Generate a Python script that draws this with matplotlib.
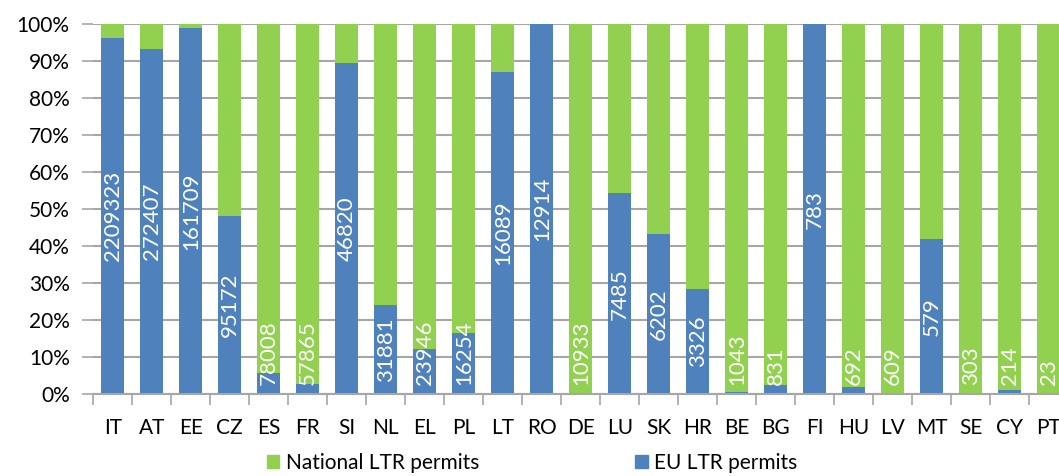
import matplotlib
matplotlib.use("Agg")
import matplotlib.pyplot as plt
from matplotlib.patches import Patch
from matplotlib.ticker import FixedLocator

plt.rcParams['font.family'] = ['Lato', 'DejaVu Sans']

countries = ['IT', 'AT', 'EE', 'CZ', 'ES', 'FR', 'SI', 'NL', 'EL', 'PL', 'LT', 'RO', 'DE',
             'LU', 'SK', 'HR', 'BE', 'BG', 'FI', 'HU', 'LV', 'MT', 'SE', 'CY', 'PT']
# share of EU LTR permits (%), the rest is national LTR permits
eu_share = [96.1, 93.2, 98.9, 48.2, 5.8, 2.8, 89.5, 24.2, 12.2, 16.5, 87.1, 100.0, 0.4,
            54.3, 43.3, 28.5, 0.5, 2.5, 100.0, 2.1, 0.0, 41.9, 0.0, 1.2, 0.0]
labels = [2209323, 272407, 161709, 95172, 78008, 57865, 46820, 31881, 23946, 16254, 16089,
          12914, 10933, 7485, 6202, 3326, 1043, 831, 783, 692, 609, 579, 303, 214, 23]

blue = '#4F81BD'
green = '#92D050'
grid = '#A6A6A6'

national_share = [100 - v for v in eu_share]
x = list(range(len(countries)))

fig = plt.figure(figsize=(10.59, 4.76), dpi=100)
ax = fig.add_axes([93.3 / 1059, 81.7 / 476, 975 / 1059, 370.3 / 476])

ax.bar(x, eu_share, width=0.59, color=blue, zorder=3)
ax.bar(x, national_share, width=0.59, bottom=eu_share, color=green, zorder=3)

ax.set_xlim(-0.5, len(countries) - 0.5)
ax.set_ylim(0, 100)
ax.set_yticks(range(0, 101, 10))
ax.set_yticklabels([f'{v}%' for v in range(0, 101, 10)], fontsize=15)
ax.set_xticks(x)
ax.set_xticklabels(countries, fontsize=15)
ax.xaxis.set_minor_locator(FixedLocator([i - 0.5 for i in range(len(countries) + 1)]))
ax.tick_params(axis='x', which='major', length=0, pad=17)
ax.tick_params(axis='x', which='minor', length=8, color=grid, width=1.2)
ax.tick_params(axis='y', length=8, color=grid, width=1.2, pad=9)
ax.yaxis.grid(True, color=grid, linewidth=1.5, zorder=0)
for s in ['left', 'right', 'top']:
    ax.spines[s].set_visible(False)
ax.spines['bottom'].set_color(grid)
ax.spines['bottom'].set_linewidth(1.5)
ax.spines['bottom'].set_zorder(4)

# value labels, centred in the blue part but kept inside the plot area
texts = []
for i, (v, lab) in enumerate(zip(eu_share, labels)):
    t = ax.text(i, v / 2, str(lab), rotation=90, ha='center', va='center',
                color='white', fontsize=16, zorder=5)
    texts.append(t)

fig.canvas.draw()
renderer = fig.canvas.get_renderer()
ax_bottom = ax.get_window_extent(renderer).y0
for t in texts:
    bb = t.get_window_extent(renderer)
    if bb.y0 < ax_bottom + 9:
        shift = ax_bottom + 9 - bb.y0
        xd, yd = t.get_position()
        ypix = ax.transData.transform((xd, yd))[1] + shift
        t.set_y(ax.transData.inverted().transform((0, ypix))[1])

handles = [Patch(color=green, label='National LTR permits'),
           Patch(color=blue, label='EU LTR permits')]
fig.legend(handles=handles, loc='center', bbox_to_anchor=(532 / 1059, 1 - 463 / 476), ncol=2,
           frameon=False, fontsize=15, handlelength=0.6, handleheight=0.6,
           handletextpad=0.3, columnspacing=7.5)

fig.savefig('out.png', dpi=100)
